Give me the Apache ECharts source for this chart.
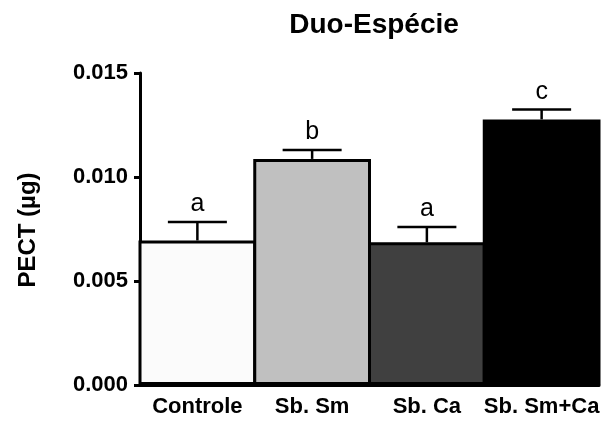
<!DOCTYPE html>
<html>
<head>
<meta charset="utf-8">
<script src="https://cdn.jsdelivr.net/npm/echarts@6/dist/echarts.min.js"></script>
<style>
  html, body { margin: 0; padding: 0; background: #ffffff; }
  #chart { width: 605px; height: 425px; }
</style>
</head>
<body>
<div id="chart"></div>
<script>
// Group names, mean PECT values, upper error limits and significance letters
const categories = ['Controle', 'Sb. Sm', 'Sb. Ca', 'Sb. Sm+Ca'];
const means = [0.00695, 0.01087, 0.00686, 0.01277];
const errorTops = [0.00784, 0.0113, 0.0076, 0.01325];
const letters = ['a', 'b', 'a', 'c'];
const barColors = ['#fbfbfb', '#c0c0c0', '#404040', '#000000'];
const yMin = 0, yMax = 0.015, yStep = 0.005;

const FONT = '"Liberation Sans", Arial, sans-serif';
const BORDER = 3;
const chart = echarts.init(document.getElementById('chart'), null, { renderer: 'canvas' });

const option = {
  animation: false,
  backgroundColor: '#ffffff',
  title: {
    text: 'Duo-Espécie',
    left: 369,
    top: 6,
    textAlign: 'center',
    textStyle: { fontFamily: FONT, fontWeight: 'bold', fontSize: 28, color: '#000' }
  },
  graphic: [{
    type: 'text',
    x: 28,
    y: 230,
    rotation: Math.PI / 2,
    style: {
      text: 'PECT (µg)',
      fontFamily: FONT,
      fontWeight: 'bold',
      fontSize: 24,
      fill: '#000',
      align: 'center',
      verticalAlign: 'middle'
    }
  }],
  grid: { left: 140, right: 6, top: 73, bottom: 40 },
  xAxis: {
    type: 'category',
    data: categories,
    boundaryGap: true,
    axisLine: { lineStyle: { color: '#000', width: 3 } },
    axisTick: { alignWithLabel: true, length: 6, lineStyle: { color: '#000', width: 3 } },
    axisLabel: { interval: 0, fontFamily: FONT, fontWeight: 'bold', fontSize: 22, color: '#000', margin: 11 },
    splitLine: { show: false }
  },
  yAxis: {
    type: 'value',
    min: yMin,
    max: yMax,
    interval: yStep,
    axisLine: { show: true, lineStyle: { color: '#000', width: 3 } },
    axisTick: { show: true, length: 6, lineStyle: { color: '#000', width: 3 } },
    axisLabel: {
      fontFamily: FONT, fontWeight: 'bold', fontSize: 22, color: '#000', margin: 12,
      formatter: v => v.toFixed(3)
    },
    splitLine: { show: false }
  },
  series: [
    {
      // adjacent bars overlap by one border width so they share a single outline
      type: 'bar',
      barWidth: (605 - 140 - 6) / categories.length + BORDER,
      barCategoryGap: 0,
      data: means.map((v, i) => ({
        value: v,
        itemStyle: { color: barColors[i], borderColor: '#000', borderWidth: BORDER }
      })),
      z: 2
    },
    {
      // error bars with significance letters above the caps
      type: 'custom',
      z: 3,
      data: means.map((v, i) => [i, v, errorTops[i]]),
      renderItem: function (params, api) {
        const i = api.value(0);
        const base = api.coord([i, api.value(1)]);
        const top = api.coord([i, api.value(2)]);
        const half = 29.5;
        const style = { stroke: '#000', lineWidth: 2.5 };
        return {
          type: 'group',
          children: [
            { type: 'line', shape: { x1: base[0], y1: base[1], x2: top[0], y2: top[1] }, style: style },
            { type: 'line', shape: { x1: top[0] - half, y1: top[1], x2: top[0] + half, y2: top[1] }, style: style },
            {
              type: 'text',
              x: top[0],
              y: top[1] - 5,
              style: {
                text: letters[params.dataIndex],
                fontFamily: FONT,
                fontSize: 25,
                fill: '#000',
                align: 'center',
                verticalAlign: 'bottom'
              }
            }
          ]
        };
      }
    }
  ]
};

chart.setOption(option);
</script>
</body>
</html>
